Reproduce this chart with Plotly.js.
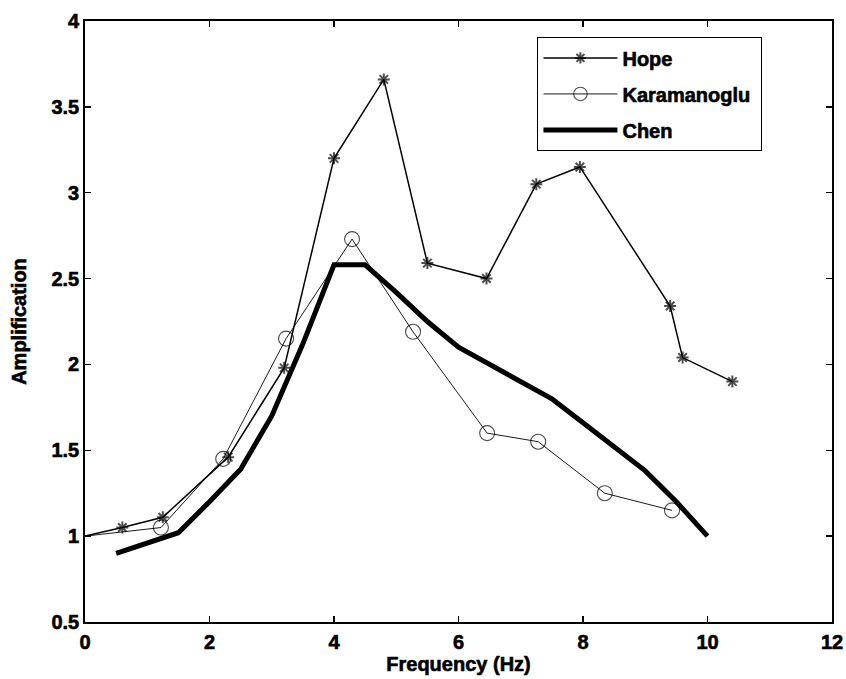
<!DOCTYPE html>
<html>
<head>
<meta charset="utf-8">
<script src="https://cdn.plot.ly/plotly-3.0.1.min.js"></script>
<style>
  html, body { margin: 0; padding: 0; background: #fff; }
  #chart { width: 846px; height: 679px; }
  /* heavier glyph outlines for all chart text */
  #chart svg text { stroke: #000; stroke-width: 0.6px; paint-order: stroke; }
</style>
</head>
<body>
<div id="chart"></div>
<script>
// Site amplification versus frequency for three models
const hopeFreq = [0, 0.6, 1.25, 2.3, 3.2, 4.0, 4.8, 5.5, 6.45, 7.25, 7.95, 9.4, 9.6, 10.4];
const hopeAmp  = [1.0, 1.05, 1.11, 1.46, 1.98, 3.2, 3.66, 2.59, 2.5, 3.05, 3.15, 2.34, 2.04, 1.9];

const karaFreq = [0, 1.22, 2.22, 3.23, 4.29, 5.27, 6.46, 7.28, 8.35, 9.43];
const karaAmp  = [1.0, 1.05, 1.45, 2.15, 2.73, 2.19, 1.6, 1.55, 1.25, 1.15];

const chenFreq = [0.5, 1.0, 1.5, 2.0, 2.5, 3.0, 3.5, 4.0, 4.5, 5.0, 5.5, 6.0, 6.5, 7.0, 7.5, 8.0, 8.5, 9.0, 9.5, 10.0];
const chenAmp  = [0.9, 0.96, 1.02, 1.2, 1.39, 1.7, 2.12, 2.58, 2.58, 2.42, 2.25, 2.1, 2.0, 1.9, 1.8, 1.66, 1.52, 1.38, 1.2, 1.0];

const xTicks = [0, 2, 4, 6, 8, 10, 12];
const yTicks = [0.5, 1, 1.5, 2, 2.5, 3, 3.5, 4];

// the curve starting point sits on the axis, so its marker is not shown
const sizesFor = (n, s) => Array.from({length: n}, (_, i) => i === 0 ? 0 : s);
const bold = v => '<b>' + v + '</b>';

const traces = [
  {
    x: hopeFreq, y: hopeAmp, name: bold('Hope'), legendgroup: 'g1', type: 'scatter', mode: 'lines+markers',
    line: {color: '#000', width: 1.5},
    marker: {symbol: 'asterisk-open', size: sizesFor(hopeFreq.length, 10), color: '#000', line: {color: '#000', width: 2}}
  },
  {
    x: karaFreq, y: karaAmp, name: bold('Karamanoglu') + '&nbsp;', legendgroup: 'g2', type: 'scatter', mode: 'lines+markers',
    line: {color: '#000', width: 0.9},
    marker: {symbol: 'circle-open', size: sizesFor(karaFreq.length, 15), color: '#000', line: {color: '#000', width: 1.1}}
  },
  {
    x: chenFreq, y: chenAmp, name: bold('Chen'), legendgroup: 'g3', type: 'scatter', mode: 'lines',
    line: {color: '#000', width: 5}
  }
];

const family = 'Liberation Sans';
const tickFont = {family: family, size: 20, color: '#000', weight: 'bold'};
const titleFont = {family: family, size: 20, color: '#000', weight: 'bold'};

const layout = {
  width: 846, height: 679,
  margin: {l: 85, r: 14, t: 21, b: 57},
  paper_bgcolor: '#fff', plot_bgcolor: '#fff',
  showlegend: true,
  xaxis: {
    range: [0, 12], tickvals: xTicks, ticktext: xTicks.map(bold),
    ticks: 'inside', ticklen: 6, tickwidth: 1.3, tickcolor: '#000',
    showline: true, linecolor: '#000', linewidth: 1.8, mirror: 'ticks',
    showgrid: false, zeroline: false, tickfont: tickFont, ticklabelstandoff: 1,
    title: {text: bold('Frequency (Hz)'), font: titleFont, standoff: 0}
  },
  yaxis: {
    range: [0.5, 4], tickvals: yTicks, ticktext: yTicks.map(bold),
    ticks: 'inside', ticklen: 6, tickwidth: 1.3, tickcolor: '#000',
    showline: true, linecolor: '#000', linewidth: 1.8, mirror: 'ticks',
    showgrid: false, zeroline: false, tickfont: tickFont, ticklabelstandoff: 0,
    title: {text: bold('Amplification'), font: titleFont, standoff: 19}
  },
  legend: {
    x: 0.6054, y: 0.973, xanchor: 'left', yanchor: 'top',
    bgcolor: '#fff', bordercolor: '#000', borderwidth: 1.2,
    font: {family: family, size: 20, color: '#000', weight: 'bold'},
    itemwidth: 74, tracegroupgap: 7, traceorder: 'grouped'
  }
};

Plotly.newPlot('chart', traces, layout, {displayModeBar: false, staticPlot: true});
</script>
</body>
</html>
